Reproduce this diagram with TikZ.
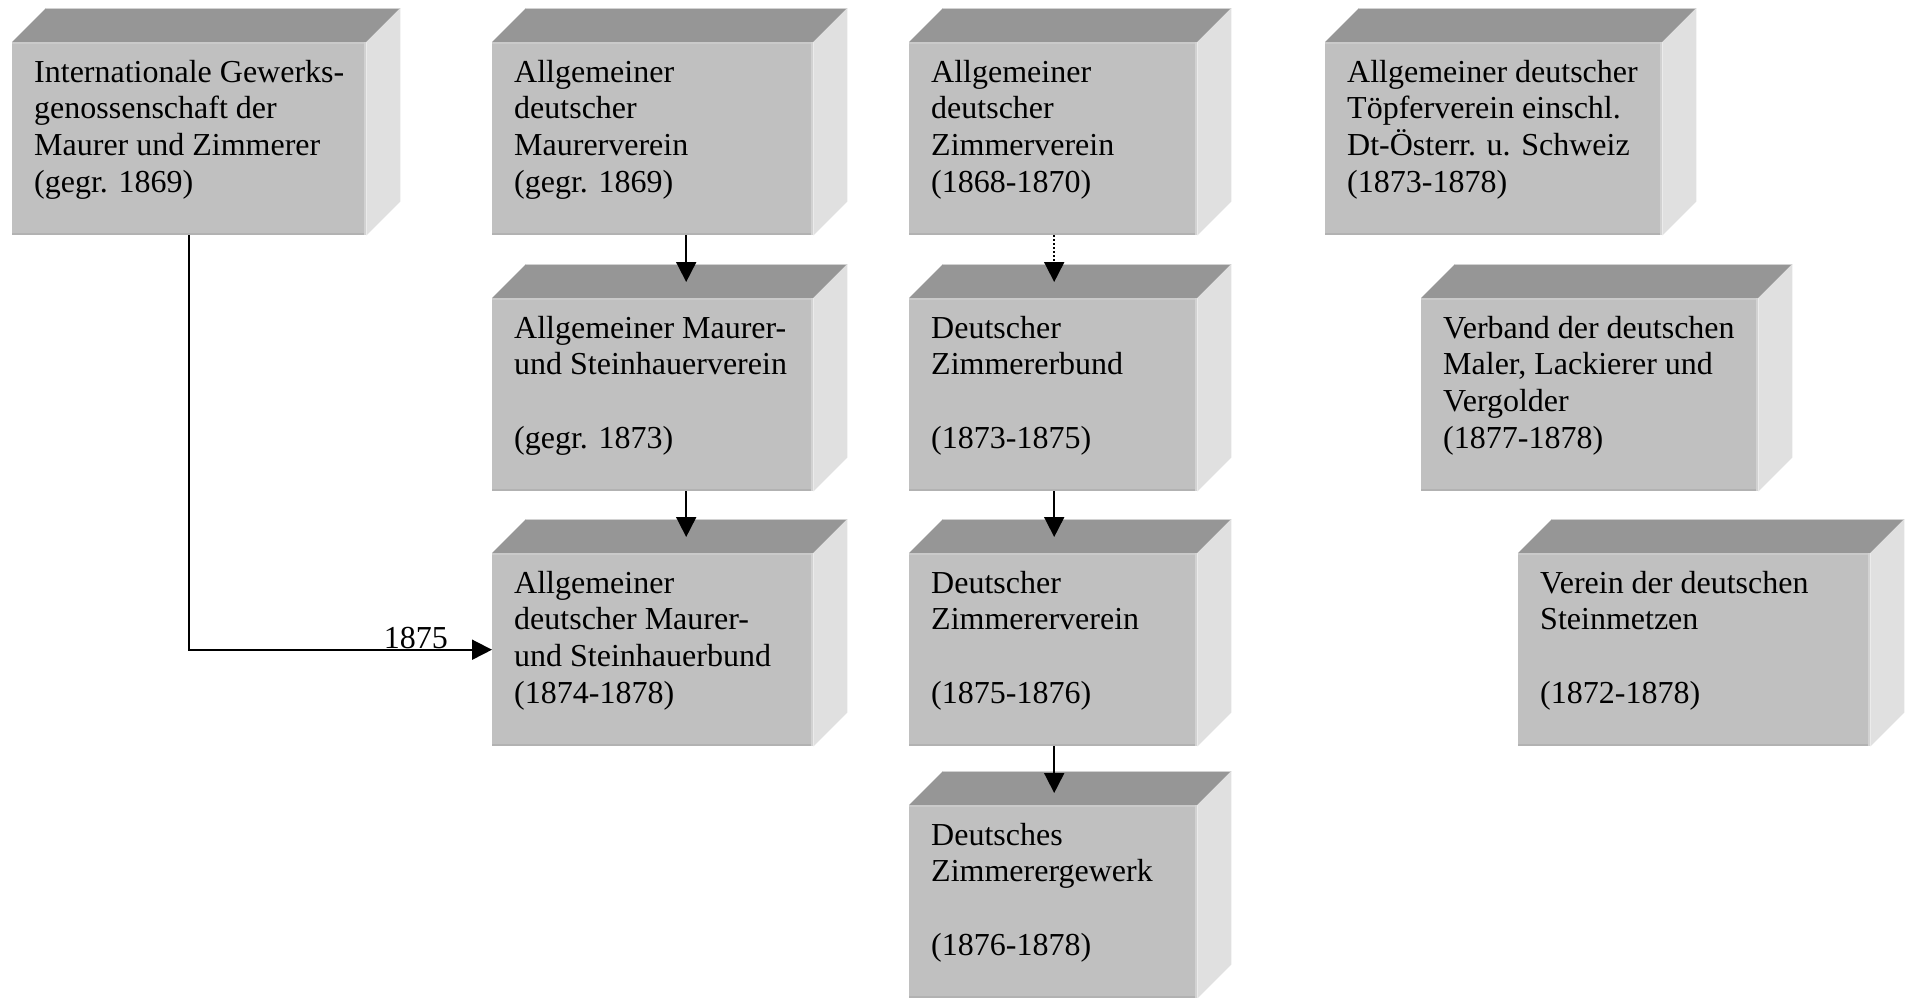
\documentclass[tikz,border=0pt]{standalone}
\usepackage{fontspec}
\setmainfont{Liberation Serif}
\usetikzlibrary{arrows.meta}
\definecolor{frontc}{HTML}{C0C0C0}
\definecolor{topc}{HTML}{969696}
\definecolor{sidec}{HTML}{E0E0E0}
\definecolor{edgedark}{HTML}{B2B2B2}
\definecolor{edgelight}{HTML}{D2D2D2}
\definecolor{edgetop}{HTML}{CACACA}
\newcommand\cubetext[2]{%
  \begin{minipage}[t][193pt][t]{#1pt}\fontsize{32}{36.7}\selectfont\raggedright\leftskip=22pt\relax\lineskiplimit=-100pt\rule{0pt}{40pt}#2\end{minipage}}
\tikzset{
  face/.style={fill=frontc, inner sep=0pt, anchor=north west},
  arr/.style={line width=1.8pt, -{Triangle[length=20pt,width=20pt]}},
  dotarr/.style={arr, dash pattern=on 2pt off 2pt},
  yearlabel/.style={anchor=south east, inner sep=0pt, font=\fontsize{32}{36}\selectfont},
}
\newcommand\cube[5]{%
  \node[face, minimum width=#4pt, minimum height=193pt] (#1) at (#2,#3) {\cubetext{#4}{#5}};
  \fill[topc] (#1.north west) -- ++(34pt,34pt) -- ([shift={(34pt,34pt)}]#1.north east) -- (#1.north east) -- cycle;
  \fill[sidec] (#1.north east) -- ++(34pt,34pt) -- ([shift={(34pt,34pt)}]#1.south east) -- (#1.south east) -- cycle;
  \draw[edgetop, line width=2pt] ([yshift=-1pt]#1.north west) -- ([yshift=-1pt]#1.north east);
  \draw[edgelight, line width=2pt] ([xshift=-1pt]#1.north east) -- ([xshift=-1pt]#1.south east);
  \draw[edgedark, line width=2pt] ([yshift=1pt]#1.south west) -- ([yshift=1pt,xshift=-2pt]#1.south east);
  \draw[edgelight, line width=1pt] ([shift={(34pt,33.5pt)}]#1.north west) -- ([shift={(34pt,33.5pt)}]#1.north east);
}
\begin{document}
\begin{tikzpicture}[x=1pt, y=-1pt]
\useasboundingbox (0,0) rectangle (1906,997);
\cube{i1}{12}{42}{354}{Internationale Gewerks-\\genossenschaft der\\Maurer und Zimmerer\\(gegr. 1869)}
\cube{a1}{492}{42}{321}{Allgemeiner\\deutscher\\Maurerverein\\(gegr. 1869)}
\cube{a2}{492}{298}{321}{Allgemeiner Maurer-\\und Steinhauerverein\\\mbox{}\\(gegr. 1873)}
\cube{a3}{492}{553}{321}{Allgemeiner\\deutscher Maurer-\\und Steinhauerbund\\(1874-1878)}
\cube{z1}{909}{42}{288}{Allgemeiner\\deutscher\\Zimmerverein\\(1868-1870)}
\cube{z2}{909}{298}{288}{Deutscher\\Zimmererbund\\\mbox{}\\(1873-1875)}
\cube{z3}{909}{553}{288}{Deutscher\\Zimmererverein\\\mbox{}\\(1875-1876)}
\cube{z4}{909}{805}{288}{Deutsches\\Zimmerergewerk\\\mbox{}\\(1876-1878)}
\cube{t1}{1325}{42}{337}{Allgemeiner deutscher\\Töpferverein einschl.\\Dt-Österr. u. Schweiz\\(1873-1878)}
\cube{v1}{1421}{298}{337}{Verband der deutschen\\Maler, Lackierer und\\Vergolder\\(1877-1878)}
\cube{s1}{1518}{553}{352}{Verein der deutschen\\Steinmetzen\\\mbox{}\\(1872-1878)}
\draw[arr] ([xshift=33.5pt]a1.south) -- ([xshift=33.5pt,yshift=16pt]a2.north);
\draw[arr] ([xshift=33.5pt]a2.south) -- ([xshift=33.5pt,yshift=16pt]a3.north);
\draw[dotarr] ([xshift=1pt]z1.south) -- ([xshift=1pt,yshift=16pt]z2.north);
\draw[arr] ([xshift=1pt]z2.south) -- ([xshift=1pt,yshift=16pt]z3.north);
\draw[arr] ([xshift=1pt]z3.south) -- ([xshift=1pt,yshift=12pt]z4.north);
\draw[arr] (i1.south) |- (a3.west);
\node[yearlabel] (y1875) at ([xshift=-44pt,yshift=1pt]a3.west) {1875};
\end{tikzpicture}
\end{document}
